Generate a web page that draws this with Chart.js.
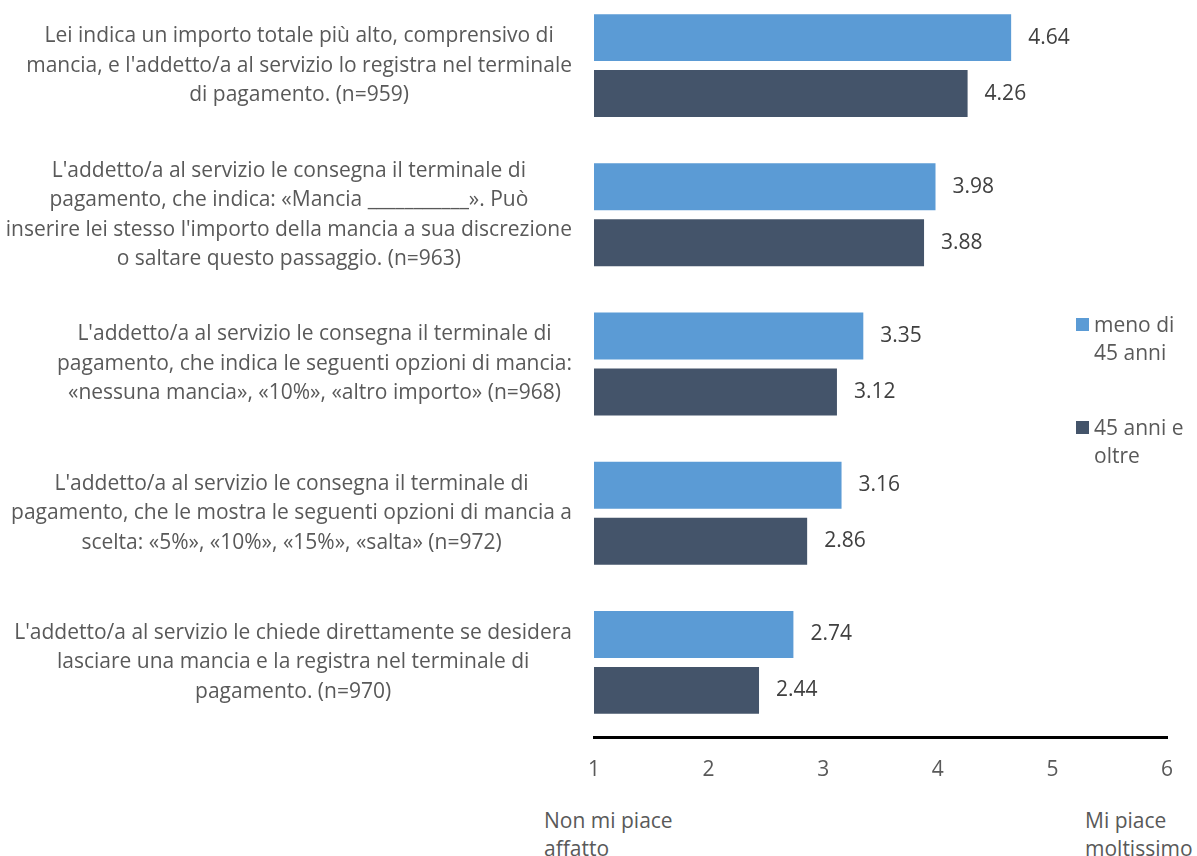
<!DOCTYPE html>
<html>
<head>
<meta charset="utf-8">
<script src="https://cdn.jsdelivr.net/npm/chart.js@4.4.1/dist/chart.umd.min.js"></script>
<style>
  body { margin: 0; background: #fff; font-family: "Open Sans", sans-serif; }
  #wrap { position: relative; width: 1197px; height: 856px; overflow: hidden; }
  #box { position: absolute; left: 0; top: -9px; width: 1197px; height: 815px; }
  .txt { position: absolute; color: #595959; font-size: 21px; line-height: 28px; }
  .sw { position: absolute; width: 13px; height: 13px; }
</style>
</head>
<body>
<div id="wrap">
  <div id="box"><canvas id="tipchart"></canvas></div>
  <div class="sw" style="left:1076px;top:318px;background:#5B9BD5"></div>
  <div class="txt" style="left:1094px;top:310px">meno di<br>45 anni</div>
  <div class="sw" style="left:1076px;top:421px;background:#44546A"></div>
  <div class="txt" style="left:1094px;top:413px">45 anni e<br>oltre</div>
  <div class="txt" style="left:544px;top:806px">Non mi piace<br>affatto</div>
  <div class="txt" style="left:1085px;top:806px">Mi piace<br>moltissimo</div>
</div>
<script>
const categories = [
  ['Lei indica un importo totale più alto, comprensivo di', "mancia, e l'addetto/a al servizio lo registra nel terminale", 'di pagamento. (n=959)'],
  ["L'addetto/a al servizio le consegna il terminale di", 'pagamento, che indica: «Mancia ___________». Può', "inserire lei stesso l'importo della mancia a sua discrezione", 'o saltare questo passaggio. (n=963)'],
  ["L'addetto/a al servizio le consegna il terminale di", 'pagamento, che indica le seguenti opzioni di mancia:', '«nessuna mancia», «10%», «altro importo» (n=968)'],
  ["L'addetto/a al servizio le consegna il terminale di", 'pagamento, che le mostra le seguenti opzioni di mancia a', 'scelta: «5%», «10%», «15%», «salta» (n=972)'],
  ["L'addetto/a al servizio le chiede direttamente se desidera", 'lasciare una mancia e la registra nel terminale di', 'pagamento. (n=970)']
];
const under45 = [4.64, 3.98, 3.35, 3.16, 2.74];
const over45 = [4.26, 3.88, 3.12, 2.86, 2.44];
const seriesNames = ['meno di 45 anni', '45 anni e oltre'];

const catLabels = {
  id: 'catLabels',
  afterDraw(chart) {
    const ctx = chart.ctx;
    const y = chart.scales.y;
    ctx.save();
    ctx.font = '21px "Open Sans"';
    ctx.fillStyle = '#595959';
    ctx.textAlign = 'center';
    ctx.textBaseline = 'middle';
    categories.forEach((lines, i) => {
      const maxW = Math.max(...lines.map(l => ctx.measureText(l).width));
      const cx = 572 - maxW / 2;
      const cy = y.getPixelForValue(i);
      const lh = 29.5;
      lines.forEach((l, j) => {
        ctx.fillText(l, cx, cy + (j - (lines.length - 1) / 2) * lh);
      });
    });
    ctx.restore();
  }
};

const valueLabels = {
  id: 'valueLabels',
  afterDatasetsDraw(chart) {
    const ctx = chart.ctx;
    ctx.save();
    ctx.font = '21px "Open Sans"';
    ctx.fillStyle = '#404040';
    ctx.textAlign = 'left';
    ctx.textBaseline = 'middle';
    chart.data.datasets.forEach((ds, di) => {
      chart.getDatasetMeta(di).data.forEach((bar, i) => {
        ctx.fillText(ds.data[i].toFixed(2), bar.x + 17, bar.y);
      });
    });
    ctx.restore();
  }
};

new Chart(document.getElementById('tipchart'), {
  type: 'bar',
  data: {
    labels: categories.map(c => c.join(' ')),
    datasets: [
      { label: seriesNames[0], data: under45, backgroundColor: '#5B9BD5' },
      { label: seriesNames[1], data: over45, backgroundColor: '#44546A' }
    ]
  },
  options: {
    indexAxis: 'y',
    responsive: true,
    maintainAspectRatio: false,
    animation: false,
    categoryPercentage: 0.75,
    barPercentage: 0.84,
    layout: { padding: { left: 594, right: 30, top: 0, bottom: 0 } },
    scales: {
      x: {
        min: 1,
        max: 6,
        ticks: { stepSize: 1, padding: 20, color: '#595959', font: { family: 'Open Sans', size: 21 } },
        grid: { display: false, drawTicks: false },
        border: { display: true, color: '#000', width: 3 },
        afterFit: s => { s.height = 69; }
      },
      y: {
        display: false
      }
    },
    plugins: {
      legend: { display: false },
      tooltip: { enabled: false }
    }
  },
  plugins: [catLabels, valueLabels]
});
</script>
</body>
</html>
